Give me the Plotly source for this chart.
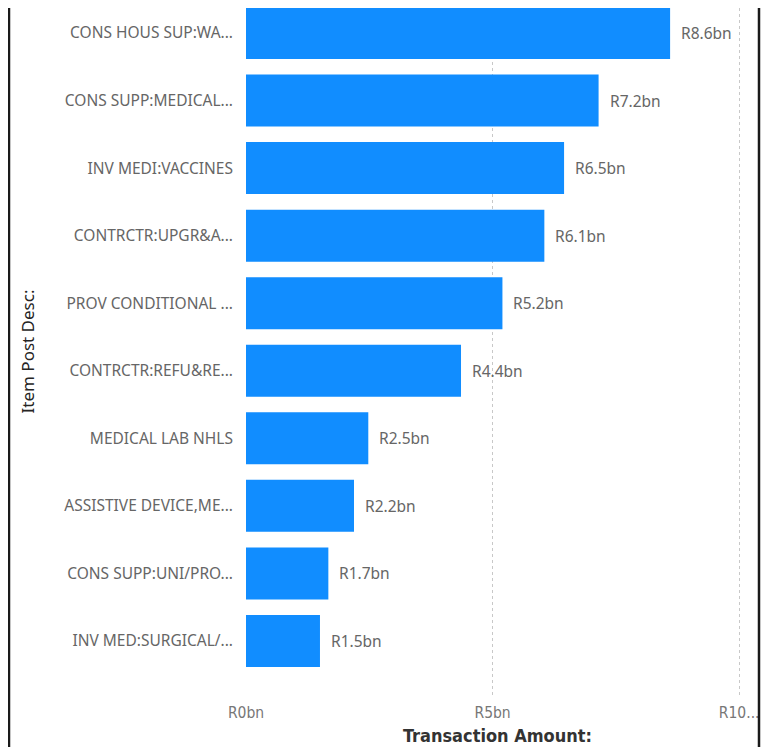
import plotly.graph_objects as go

categories = [
    "CONS HOUS SUP:WA...",
    "CONS SUPP:MEDICAL...",
    "INV MEDI:VACCINES",
    "CONTRCTR:UPGR&A...",
    "PROV CONDITIONAL ...",
    "CONTRCTR:REFU&RE...",
    "MEDICAL LAB NHLS",
    "ASSISTIVE DEVICE,ME...",
    "CONS SUPP:UNI/PRO...",
    "INV MED:SURGICAL/...",
]
amounts_bn = [8.6, 7.15, 6.45, 6.05, 5.2, 4.36, 2.48, 2.19, 1.67, 1.5]
value_labels = ["R8.6bn", "R7.2bn", "R6.5bn", "R6.1bn", "R5.2bn",
                "R4.4bn", "R2.5bn", "R2.2bn", "R1.7bn", "R1.5bn"]
tick_vals = [0, 5, 10]
tick_text = ["R0bn", "R5bn", "R10..."]

label_font = "Segoe UI, Noto Sans, Open Sans, sans-serif"
title_font = "DIN, DejaVu Sans Condensed, Liberation Sans Narrow, sans-serif"

W, H = 761, 739  # page body adds an 8px offset
L, R, T, B = 238, 20, 0, 52

fig = go.Figure()
fig.add_trace(go.Bar(
    x=amounts_bn,
    y=categories,
    orientation="h",
    marker=dict(color="#118DFF", line=dict(width=0)),
    hoverinfo="x+y",
))

for v, c, t in zip(amounts_bn, categories, value_labels):
    fig.add_annotation(
        x=v, y=c, text=t, showarrow=False, xanchor="left", xshift=9,
        font=dict(family=label_font, size=15.5, color="#666666"),
    )

fig.update_layout(
    width=W, height=H,
    margin=dict(l=L, r=R, t=T, b=B),
    paper_bgcolor="white", plot_bgcolor="white",
    bargap=0.23,
    showlegend=False,
    xaxis=dict(
        range=[0, 10.2],
        tickvals=tick_vals, ticktext=tick_text,
        showgrid=True, gridcolor="#C8C8C8", griddash="dot", gridwidth=1,
        zeroline=False, showline=False,
        tickfont=dict(family=title_font, size=15.5, color="#777777"),
        ticklabelstandoff=6,
        title=dict(text="<b>Transaction Amount:</b>", standoff=8,
                   font=dict(family=title_font, size=18, color="#333333")),
    ),
    yaxis=dict(
        type="category",
        categoryorder="array", categoryarray=categories,
        range=[9.8, -0.37],
        showgrid=False, zeroline=False, showline=False,
        tickfont=dict(family=label_font, size=15.5, color="#666666"),
        ticklabelstandoff=12,
        title=dict(text="Item Post Desc:", standoff=25,
                   font=dict(family=label_font, size=17, color="#252423")),
    ),
)

# frame lines at left and right edges
pw = W - L - R
for xpx in (1, 751):
    xp = (xpx - L) / pw
    fig.add_shape(type="line", xref="paper", yref="paper",
                  x0=xp, x1=xp, y0=-0.1, y1=1.0,
                  line=dict(color="#1a1a1a", width=2.5))

fig.write_html(
    "out.html",
    post_script="document.documentElement.style.overflow='hidden';"
                "document.body.style.overflow='hidden';",
)
